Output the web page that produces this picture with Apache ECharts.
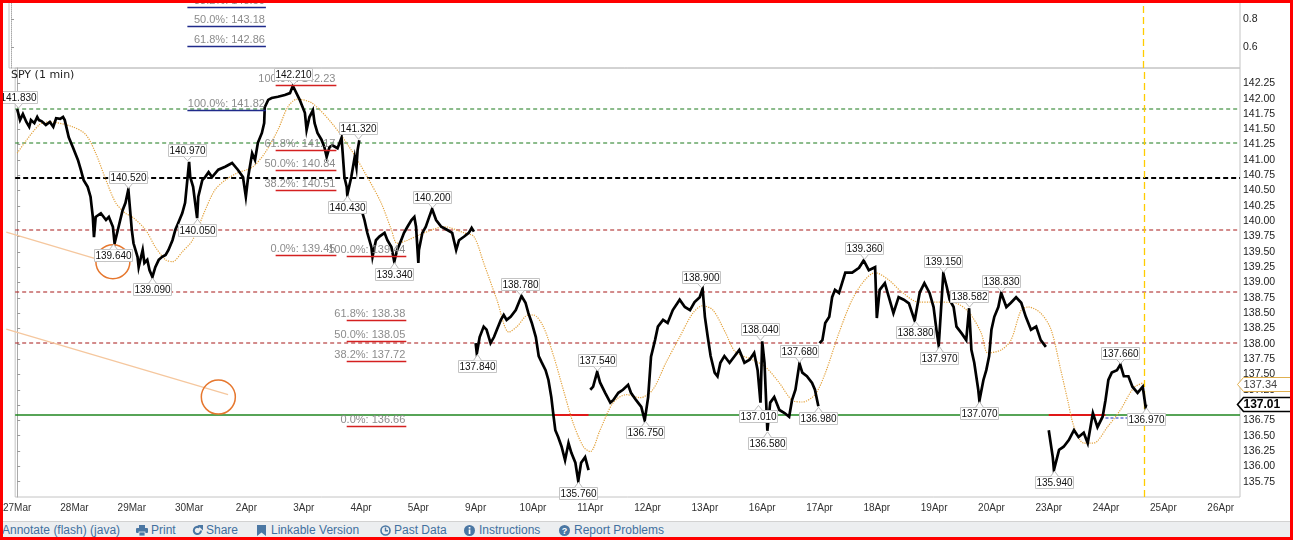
<!DOCTYPE html>
<html>
<head>
<meta charset="utf-8">
<title>SPY (1 min)</title>
<script src="https://cdn.jsdelivr.net/npm/echarts@6/dist/echarts.min.js"></script>
<style>
  body { margin: 0; background: #fff; }
  #wrap { position: relative; width: 1293px; height: 540px; overflow: hidden; background: #fff; }
  #chart { position: absolute; left: 0; top: 0; width: 1293px; height: 540px; }
  #toolbar { position: absolute; left: 0; top: 521px; width: 1293px; height: 16px; background: #eceef0;
             border-top: 1px solid #d2d2d2; font: 12px "Liberation Sans", Arial, sans-serif; color: #41709f; }
  #toolbar span { position: absolute; top: 1px; white-space: nowrap; }
  #toolbar svg { position: absolute; top: 3px; }
  #frame { position: absolute; left: 0; top: 0; width: 1293px; height: 540px; box-sizing: border-box;
           border: 3px solid #ff0000; pointer-events: none; }
</style>
</head>
<body>
<div id="wrap">
  <div id="chart"></div>
  <div id="toolbar">
    <span style="left:2px">Annotate (flash) (java)</span>
    <svg style="left:136px" width="12" height="11" viewBox="0 0 12 11"><rect x="3" y="0" width="6" height="3" fill="#4b77a3"/><rect x="0" y="3" width="12" height="5" rx="1" fill="#4b77a3"/><rect x="3" y="7" width="6" height="4" fill="#4b77a3" stroke="#eceef0" stroke-width="0.8"/></svg>
    <span style="left:151px">Print</span>
    <svg style="left:192px" width="11" height="11" viewBox="0 0 11 11"><path d="M9 5.5A3.6 3.6 0 1 1 7.4 2.5" fill="none" stroke="#4b77a3" stroke-width="2"/><path d="M5.5 0H11V5.5Z" fill="#4b77a3"/></svg>
    <span style="left:206px">Share</span>
    <svg style="left:257px" width="9" height="11" viewBox="0 0 9 11"><path d="M0 0H9V11L4.5 7.5 0 11Z" fill="#4b77a3"/></svg>
    <span style="left:271px">Linkable Version</span>
    <svg style="left:380px" width="11" height="11" viewBox="0 0 11 11"><circle cx="5.5" cy="5.5" r="4.5" fill="none" stroke="#4b77a3" stroke-width="1.6"/><path d="M5.5 2.5V5.7H8" fill="none" stroke="#4b77a3" stroke-width="1.4"/></svg>
    <span style="left:394px">Past Data</span>
    <svg style="left:464px" width="11" height="11" viewBox="0 0 11 11"><circle cx="5.5" cy="5.5" r="5.5" fill="#4b77a3"/><rect x="4.7" y="4.5" width="1.7" height="4.5" fill="#fff"/><rect x="4.7" y="2" width="1.7" height="1.6" fill="#fff"/></svg>
    <span style="left:479px">Instructions</span>
    <svg style="left:559px" width="11" height="11" viewBox="0 0 11 11"><circle cx="5.5" cy="5.5" r="5.5" fill="#4b77a3"/><text x="5.5" y="9" text-anchor="middle" font-family="Liberation Sans, Arial" font-weight="bold" font-size="9" fill="#fff">?</text></svg>
    <span style="left:574px">Report Problems</span>
  </div>
  <div id="frame"></div>
</div>
<script type="text/javascript">
// trading sessions shown on the x axis (index = session number)
var tradingDays = ['27Mar','28Mar','29Mar','30Mar','2Apr','3Apr','4Apr','5Apr','9Apr','10Apr','11Apr',
                   '12Apr','13Apr','16Apr','17Apr','18Apr','19Apr','20Apr','23Apr','24Apr','25Apr','26Apr'];

// SPY 1-min trace: [session + fraction of day, price]
var priceDays = [
  [[0.00,141.83],[0.05,141.65],[0.10,141.75],[0.16,141.62],[0.21,141.54],[0.24,141.65],[0.30,141.60],[0.35,141.70],[0.38,141.65],[0.43,141.63],[0.50,141.57],[0.57,141.62],[0.63,141.54],[0.68,141.68],[0.75,141.67],[0.80,141.70],[0.83,141.65],[0.90,141.37],[0.97,141.21]],
  [[1.06,141.00],[1.11,140.84],[1.16,140.67],[1.23,140.56],[1.28,140.40],[1.32,140.07],[1.34,139.74],[1.37,140.07],[1.46,140.13],[1.55,140.02],[1.60,140.07],[1.67,139.91],[1.70,139.64],[1.77,139.91],[1.84,140.18],[1.89,140.30],[1.94,140.52]],
  [[2.00,139.86],[2.03,139.64],[2.10,139.42],[2.12,139.25],[2.19,139.53],[2.22,139.32],[2.27,139.37],[2.31,139.20],[2.36,139.09],[2.41,139.25],[2.47,139.37],[2.53,139.42],[2.59,139.45],[2.64,139.53],[2.71,139.69],[2.76,139.86],[2.81,139.97],[2.88,140.13],[2.93,140.30]],
  [[3.00,140.97],[3.02,140.72],[3.07,140.56],[3.14,140.05],[3.16,140.40],[3.23,140.67],[3.28,140.72],[3.34,140.80],[3.40,140.72],[3.51,140.84],[3.63,140.89],[3.75,140.95],[3.85,140.84],[3.94,140.72],[3.99,140.40]],
  [[4.03,140.72],[4.10,141.11],[4.15,141.00],[4.20,141.28],[4.27,141.44],[4.31,141.60],[4.32,141.86],[4.38,141.98],[4.44,142.01],[4.55,142.03],[4.67,142.06],[4.76,142.09],[4.81,142.21],[4.93,141.98]],
  [[5.02,141.77],[5.05,141.49],[5.10,141.70],[5.16,141.81],[5.19,141.60],[5.24,141.44],[5.31,141.33],[5.36,141.21],[5.40,141.05],[5.45,141.21],[5.50,141.24],[5.59,141.19],[5.66,141.36],[5.68,141.11],[5.71,140.72],[5.75,140.56],[5.76,140.43],[5.83,140.72],[5.89,141.05],[5.92,140.88],[5.94,141.16],[5.97,141.32]],
  [[6.01,140.18],[6.06,140.02],[6.11,139.81],[6.18,139.58],[6.20,139.42],[6.26,139.69],[6.32,139.75],[6.41,139.81],[6.46,139.69],[6.53,139.58],[6.58,139.34],[6.63,139.53],[6.70,139.69],[6.75,139.81],[6.81,139.91],[6.88,140.02],[6.93,140.07],[6.96,139.91]],
  [[7.00,139.32],[7.01,139.53],[7.07,139.81],[7.13,139.91],[7.19,140.07],[7.24,140.20],[7.31,140.02],[7.40,139.91],[7.50,139.86],[7.59,139.81],[7.66,139.53],[7.71,139.69],[7.80,139.75],[7.88,139.81],[7.93,139.89],[7.97,139.83]],
  [[8.00,138.01],[8.02,137.84],[8.07,138.11],[8.14,138.28],[8.19,138.23],[8.26,138.01],[8.32,138.11],[8.37,138.23],[8.44,138.39],[8.49,138.47],[8.54,138.39],[8.61,138.44],[8.70,138.55],[8.80,138.78],[8.87,138.67],[8.92,138.50],[8.98,138.34]],
  [[9.05,138.11],[9.10,137.80],[9.15,137.70],[9.22,137.57],[9.27,137.41],[9.32,137.13],[9.36,136.81],[9.39,136.59],[9.44,136.48],[9.50,136.32],[9.56,136.10],[9.62,136.38],[9.67,136.22],[9.74,136.06],[9.79,135.76],[9.84,136.06],[9.91,136.15],[9.97,135.94]],
  [[10.00,137.25],[10.05,137.30],[10.12,137.54],[10.17,137.37],[10.26,137.20],[10.35,137.04],[10.40,137.08],[10.49,137.20],[10.57,137.25],[10.66,137.33],[10.71,137.20],[10.80,137.08],[10.89,136.97],[10.95,136.75]],
  [[11.01,137.13],[11.06,137.79],[11.13,138.06],[11.18,138.28],[11.27,138.39],[11.35,138.34],[11.44,138.55],[11.56,138.72],[11.65,138.60],[11.74,138.55],[11.82,138.68],[11.91,138.76],[11.96,138.90]],
  [[12.00,138.44],[12.05,138.11],[12.10,137.80],[12.17,137.53],[12.22,137.47],[12.27,137.69],[12.34,137.80],[12.43,137.69],[12.52,137.80],[12.60,137.90],[12.69,137.69],[12.78,137.74],[12.86,137.85],[12.92,137.57],[12.95,137.25],[12.97,137.04]],
  [[13.00,138.04],[13.04,137.69],[13.06,137.25],[13.09,136.58],[13.14,137.04],[13.21,137.13],[13.30,136.92],[13.39,136.87],[13.47,136.81],[13.52,137.08],[13.58,137.25],[13.65,137.68],[13.70,137.53],[13.78,137.47],[13.87,137.36],[13.92,137.25],[13.98,136.98]],
  [[14.00,138.01],[14.05,138.06],[14.10,138.34],[14.17,138.44],[14.22,138.76],[14.27,138.88],[14.34,138.83],[14.45,139.16],[14.57,139.16],[14.69,139.24],[14.77,139.36],[14.86,139.20],[14.97,139.25]],
  [[15.00,138.42],[15.05,138.88],[15.14,138.99],[15.21,138.76],[15.29,138.50],[15.38,138.76],[15.47,138.72],[15.56,138.66],[15.66,138.38],[15.75,138.84],[15.83,138.99],[15.92,138.83],[15.99,138.60]],
  [[16.04,138.23],[16.08,137.97],[16.16,139.15],[16.22,138.93],[16.27,138.72],[16.34,138.60],[16.39,138.28],[16.48,138.17],[16.56,138.06],[16.61,138.58],[16.65,137.90],[16.70,137.69],[16.77,137.25],[16.79,137.07],[16.86,137.41],[16.91,137.57],[16.96,137.80]],
  [[17.00,138.23],[17.05,138.44],[17.12,138.60],[17.17,138.83],[17.26,138.60],[17.34,138.67],[17.43,138.76],[17.52,138.67],[17.60,138.44],[17.69,138.23],[17.78,138.28],[17.86,138.06],[17.95,137.95]],
  [[18.00,136.59],[18.07,136.15],[18.09,135.94],[18.18,136.27],[18.26,136.32],[18.35,136.43],[18.44,136.59],[18.52,136.48],[18.61,136.55],[18.68,136.38],[18.77,136.87],[18.85,136.64],[18.94,136.81],[18.99,137.08]],
  [[19.04,137.41],[19.10,137.53],[19.19,137.57],[19.25,137.66],[19.31,137.47],[19.39,137.47],[19.46,137.30],[19.55,137.20],[19.64,137.30],[19.69,136.97],[19.70,137.01]]
];
// sessions that opened with a visible price gap (no connecting stroke)
var gapOpens = [6, 8, 10, 14, 18];

// dotted moving average
var maTrace = [[0.00,141.11],[0.38,141.57],[0.56,141.62],[0.97,141.54],[1.20,141.41],[1.37,141.11],[1.55,140.67],[1.72,140.30],[1.89,140.13],[2.01,140.07],[2.24,139.86],[2.41,139.58],[2.59,139.37],[2.71,139.34],[2.88,139.50],[3.06,139.69],[3.28,140.18],[3.45,140.51],[3.63,140.67],[3.85,140.79],[4.10,140.88],[4.32,141.11],[4.55,141.49],[4.72,141.86],[4.88,141.99],[5.14,141.93],[5.49,141.60],[5.83,141.16],[6.11,140.72],[6.35,140.30],[6.53,139.86],[6.63,139.64],[6.81,139.69],[7.10,139.81],[7.45,139.91],[7.80,139.81],[7.97,139.75],[8.14,139.32],[8.37,138.72],[8.58,138.19],[8.72,138.28],[8.92,138.47],[9.01,138.47],[9.18,138.28],[9.36,137.80],[9.53,137.25],[9.70,136.71],[9.88,136.32],[10.00,136.24],[10.17,136.59],[10.40,137.04],[10.63,137.17],[10.87,137.12],[11.09,137.25],[11.32,137.69],[11.56,138.11],[11.79,138.50],[11.96,138.62],[12.14,138.55],[12.36,138.18],[12.53,137.87],[12.83,137.74],[13.06,137.62],[13.30,137.36],[13.52,137.08],[13.70,137.05],[13.92,137.17],[14.10,137.52],[14.34,138.18],[14.57,138.72],[14.79,139.04],[14.97,139.16],[15.21,139.04],[15.43,138.85],[15.73,138.68],[16.01,138.68],[16.35,138.67],[16.60,138.52],[16.82,138.18],[16.94,137.85],[17.17,137.90],[17.34,138.06],[17.52,138.55],[17.64,138.60],[17.86,138.50],[18.04,138.23],[18.21,137.57],[18.33,137.08],[18.44,136.65],[18.61,136.38],[18.78,136.38],[19.03,136.65],[19.25,136.92],[19.48,137.28],[19.64,137.36]];

// swing high / low tags: [session, price, 1 = tag above, -1 = tag below]
var pivotTags = [[0.02,141.83,1],[1.94,140.52,1],[1.68,139.64,-1],[2.36,139.09,-1],[2.97,140.97,1],[3.14,140.05,-1],
  [4.81,142.21,1],[5.94,141.32,1],[5.76,140.43,-1],[7.24,140.20,1],[6.58,139.34,-1],[8.78,138.78,1],[8.02,137.84,-1],
  [9.79,135.76,-1],[10.12,137.54,1],[10.95,136.75,-1],[11.93,138.90,1],[12.97,138.04,1],[12.93,137.01,-1],[13.09,136.58,-1],
  [13.65,137.68,1],[13.97,136.98,-1],[14.77,139.36,1],[16.16,139.15,1],[16.61,138.582,1],[15.66,138.38,-1],[16.08,137.97,-1],
  [17.17,138.83,1],[16.79,137.07,-1],[18.09,135.94,-1],[19.25,137.66,1],[19.69,136.97,-1]];

// horizontal levels across the chart
var levelPrices = [141.83, 141.27, 140.71, 139.86, 138.84, 138.01, 136.84];
var levelKinds  = ['green', 'green', 'black', 'red', 'red', 'red', 'solid'];
// short marks on top of the base line: [from session, to session, price]
var redStubs  = [[9.36, 9.97, 136.84], [18.00, 18.99, 136.84]];
var blueStubs = [[18.99, 19.38, 136.79]];
var nowSession = 19.66;

// Fibonacci retracements: [percent, price], with the session span each set covers
var fibUpperSet = [[38.2,143.50],[50.0,143.18],[61.8,142.86],[100.0,141.82]];
var fibMidSet   = [[100.0,142.23],[61.8,141.17],[50.0,140.84],[38.2,140.51],[0.0,139.45]];
var fibLowSet   = [[100.0,139.44],[61.8,138.38],[50.0,138.05],[38.2,137.72],[0.0,136.66]];
var fibSpans = [[2.97, 4.34], [4.51, 5.57], [5.75, 6.79]];

// hand-drawn trend lines and circles
var trendLines = [[-0.19,139.82,1.54,139.34],[-0.19,138.24,3.68,137.17]];
var trendCircles = [[1.67,139.34],[3.51,137.13]];

var maLast = 137.34;
var priceLast = 137.01;

var FONT = '"Liberation Sans", Arial, sans-serif';
var xMin = -0.035, xMax = 21.337;
var yMin = 135.5, yMax = 142.5;
var topMin = 0.45, topMax = 0.936;

var priceLine = [];
priceDays.forEach(function (day, i) {
    if (gapOpens.indexOf(i) >= 0) priceLine.push([i, '-']);
    day.forEach(function (pt) { priceLine.push(pt); });
});

function segStyle(kind) {
    switch (kind) {
        case 'green': return { stroke: '#1b7a1b', lineWidth: 1.2, lineDash: [4, 3] };
        case 'black': return { stroke: '#000000', lineWidth: 2, lineDash: [5, 3] };
        case 'red':   return { stroke: '#a81818', lineWidth: 1.2, lineDash: [4, 3] };
        case 'solid': return { stroke: '#1f861f', lineWidth: 1.3 };
        case 'stubR': return { stroke: '#e01818', lineWidth: 2 };
        case 'stubB': return { stroke: '#1a2ac0', lineWidth: 1.2, lineDash: [3, 2] };
        default:      return { stroke: '#ffcc00', lineWidth: 1.3, lineDash: [7, 4] };
    }
}
// segments as [x0, y0, x1, y1, style name]
var levelSegs = levelPrices.map(function (p, i) { return [xMin, p, xMax, p, levelKinds[i]]; })
    .concat(redStubs.map(function (s) { return [s[0], s[2], s[1], s[2], 'stubR']; }))
    .concat(blueStubs.map(function (s) { return [s[0], s[2], s[1], s[2], 'stubB']; }))
    .concat([[nowSession, yMin, nowSession, yMax, 'now']]);

function segmentSeries(segs, gridIdx, z) {
    return {
        type: 'custom', xAxisIndex: gridIdx, yAxisIndex: gridIdx, clip: false, silent: true, z: z,
        data: segs.map(function (s, i) { return [s[0], s[1], s[2], s[3], i]; }),
        encode: { x: [0, 2], y: [1, 3] },
        renderItem: function (params, api) {
            var seg = segs[api.value(4)];
            var a = api.coord([api.value(0), api.value(1)]);
            var b = api.coord([api.value(2), api.value(3)]);
            if (a[1] === b[1]) { a[1] = b[1] = Math.round(a[1]); }
            else { a[0] = b[0] = Math.round(a[0]) + 0.5; }
            return { type: 'line', shape: { x1: a[0], y1: a[1], x2: b[0], y2: b[1] }, style: segStyle(seg[4]) };
        }
    };
}

function fibSeries(levels, span, lineColor) {
    return {
        type: 'custom', xAxisIndex: 0, yAxisIndex: 0, clip: false, silent: true, z: 4,
        data: levels.map(function (l) { return [span[0], l[1], span[1], l[0]]; }),
        encode: { x: [0, 2], y: 1 },
        renderItem: function (params, api) {
            var a = api.coord([api.value(0), api.value(1)]);
            var b = api.coord([api.value(2), api.value(1)]);
            var y = Math.round(a[1]) + 0.5;
            var txt = api.value(3).toFixed(1) + '%: ' + api.value(1).toFixed(2);
            return { type: 'group', children: [
                { type: 'line', shape: { x1: a[0], y1: y, x2: b[0], y2: y }, style: { stroke: lineColor, lineWidth: 1.4 } },
                { type: 'text', style: { text: txt, x: b[0] - 1, y: y - 1, align: 'right', verticalAlign: 'bottom',
                                         fill: '#8c8c8c', font: '11px ' + FONT } }
            ] };
        }
    };
}

var chart = echarts.init(document.getElementById('chart'));
var option = {
    animation: false,
    backgroundColor: '#fff',
    title: { text: 'SPY (1 min)', left: 11, top: 70, padding: 0,
             textStyle: { fontSize: 11, fontWeight: 'normal', color: '#222', fontFamily: '"DejaVu Sans", sans-serif' } },
    grid: [
        { left: 9, right: 53, top: 68, bottom: 43, show: true, borderColor: '#c4c4c4', borderWidth: 1 },
        { left: 9, right: 53, top: 0, height: 68, show: true, borderColor: '#c4c4c4', borderWidth: 1 }
    ],
    xAxis: [
        { type: 'value', gridIndex: 0, min: xMin, max: xMax,
          axisLine: { show: false }, splitLine: { show: false },
          axisTick: { show: false },
          axisLabel: { customValues: tradingDays.map(function (d, i) { return i; }),
                       formatter: function (v) { return tradingDays[Math.round(v)]; },
                       fontSize: 10, color: '#333', fontFamily: FONT, margin: 6 } },
        { type: 'value', gridIndex: 1, min: xMin, max: xMax, show: false }
    ],
    yAxis: [
        { type: 'value', gridIndex: 0, position: 'right', min: yMin, max: yMax, interval: 0.25,
          splitLine: { show: false },
          axisLine: { show: true, lineStyle: { color: '#aaa' } },
          axisTick: { show: true, length: 3, lineStyle: { color: '#999' } },
          axisLabel: { showMinLabel: false, showMaxLabel: false, margin: 3, fontSize: 10.5, color: '#222', fontFamily: FONT,
                       formatter: function (v) { return v.toFixed(2); } } },
        { type: 'value', gridIndex: 1, position: 'right', min: topMin, max: topMax,
          splitLine: { show: false },
          axisLine: { show: true, lineStyle: { color: '#aaa', type: 'dotted' } },
          axisTick: { show: true, length: 3, customValues: [0.6, 0.8], lineStyle: { color: '#999' } },
          axisLabel: { customValues: [0.6, 0.8], margin: 3, fontSize: 10.5, color: '#222', fontFamily: FONT,
                       formatter: function (v) { return v.toFixed(1); } } }
    ],
    series: [
        segmentSeries(levelSegs, 0, 1),
        segmentSeries([[nowSession, topMin, nowSession, topMax, 'now']], 1, 1),
        { name: 'MA', type: 'line', xAxisIndex: 0, yAxisIndex: 0, data: maTrace, showSymbol: false, smooth: 0.3, z: 2,
          lineStyle: { color: '#e3a23c', width: 1.2, type: 'dotted' } },
        { name: 'SPY', type: 'line', xAxisIndex: 0, yAxisIndex: 0, data: priceLine, showSymbol: false,
          connectNulls: false, z: 3, lineStyle: { color: '#000', width: 2.7, join: 'miter' } },
        fibSeries(fibUpperSet, fibSpans[0], '#1f2a8a'),
        fibSeries(fibMidSet, fibSpans[1], '#d42020'),
        fibSeries(fibLowSet, fibSpans[2], '#d42020'),
        { type: 'custom', xAxisIndex: 0, yAxisIndex: 0, clip: false, silent: true, z: 2,
          data: trendLines, encode: { x: [0, 2], y: [1, 3] },
          renderItem: function (params, api) {
              var a = api.coord([api.value(0), api.value(1)]);
              var b = api.coord([api.value(2), api.value(3)]);
              return { type: 'line', shape: { x1: a[0], y1: a[1], x2: b[0], y2: b[1] },
                       style: { stroke: '#f5c79e', lineWidth: 1.3 } };
          } },
        { type: 'custom', xAxisIndex: 0, yAxisIndex: 0, clip: false, silent: true, z: 5,
          data: trendCircles, encode: { x: 0, y: 1 },
          renderItem: function (params, api) {
              var c = api.coord([api.value(0), api.value(1)]);
              return { type: 'circle', shape: { cx: c[0], cy: c[1], r: 17 },
                       style: { fill: 'none', stroke: '#e6772e', lineWidth: 1.5 } };
          } },
        { type: 'custom', xAxisIndex: 0, yAxisIndex: 0, clip: false, silent: true, z: 6,
          data: pivotTags, encode: { x: 0, y: 1 },
          renderItem: function (params, api) {
              var p = api.value(1), dir = api.value(2);
              var pt = api.coord([api.value(0), p]);
              var px = Math.round(pt[0]) + 0.5;
              var w = 38, h = 12;
              var tip = pt[1] - dir * 1;
              var edge = Math.round(pt[1] - dir * 6) + 0.5;
              var cy = edge - dir * h / 2;
              return { type: 'group', children: [
                  { type: 'rect', shape: { x: px - w / 2, y: cy - h / 2, width: w, height: h },
                    style: { fill: '#fff', stroke: '#c4c4c4', lineWidth: 1 } },
                  { type: 'polygon', shape: { points: [[px - 4, edge], [px, tip], [px + 4, edge]] },
                    style: { fill: '#fff' } },
                  { type: 'polyline', shape: { points: [[px - 4, edge], [px, tip], [px + 4, edge]] },
                    style: { fill: 'none', stroke: '#bbb', lineWidth: 1 } },
                  { type: 'text', style: { text: p.toFixed(3), x: px, y: cy + 0.5, align: 'center', verticalAlign: 'middle',
                                           fill: '#111', font: '10px ' + FONT } }
              ] };
          } },
        { type: 'custom', xAxisIndex: 0, yAxisIndex: 0, clip: false, silent: true, z: 7,
          data: [[xMax, maLast, 0], [xMax, priceLast, 1]], encode: { x: 0, y: 1 },
          renderItem: function (params, api) {
              var pt = api.coord([api.value(0), api.value(1)]);
              var last = api.value(2) === 1;
              var x0 = Math.round(pt[0]) - 2.5, y = Math.round(pt[1]) + 0.5;
              return { type: 'group', children: [
                  { type: 'polygon', shape: { points: [[x0, y], [x0 + 6, y - 7], [x0 + 60, y - 7], [x0 + 60, y + 7], [x0 + 6, y + 7]] },
                    style: { fill: '#fff', stroke: last ? '#000' : '#e0b050', lineWidth: last ? 1.6 : 1 } },
                  { type: 'text', style: { text: api.value(1).toFixed(2), x: x0 + 6, y: y + 0.5, verticalAlign: 'middle',
                                           fill: last ? '#000' : '#444',
                                           font: (last ? 'bold 12px ' : '11px ') + FONT } }
              ] };
          } }
    ]
};
chart.setOption(option);
</script>
</body>
</html>
